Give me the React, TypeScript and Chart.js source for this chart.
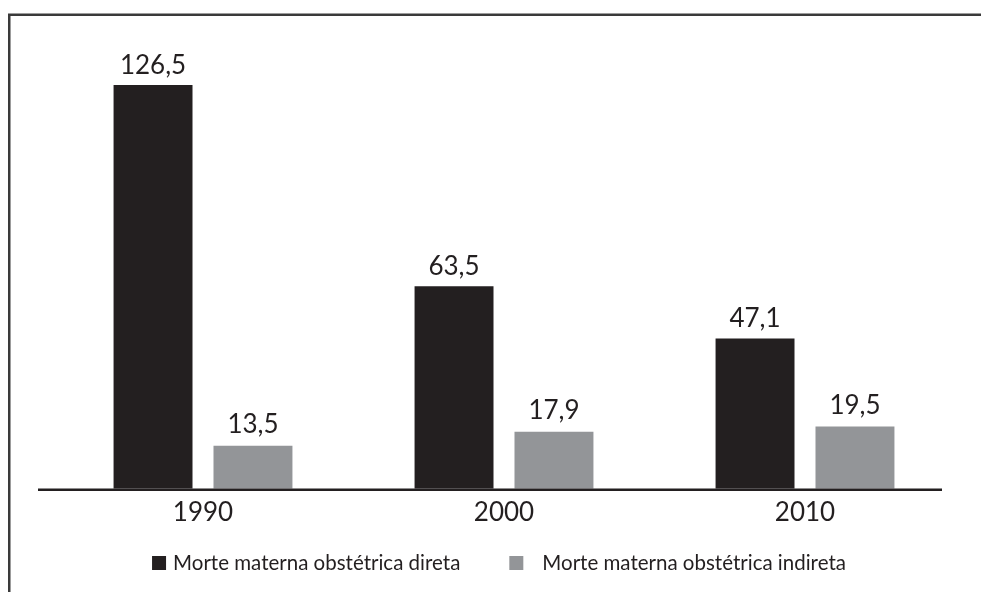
import React, { useEffect, useRef } from "react";
import { Chart, registerables } from "chart.js";

Chart.register(...registerables);

const categories = ["1990", "2000", "2010"];
const direta = [126.5, 63.5, 47.1];
const indireta = [13.5, 17.9, 19.5];
const seriesLabels = [
  "Morte materna obstétrica direta",
  "Morte materna obstétrica indireta",
];
const seriesColors = ["#231f20", "#939598"];
const yMax = 140;

const FONT = "Lato, 'DejaVu Sans', sans-serif";
const TEXT = "#231f20";

const framePlugin = {
  id: "frame",
  beforeDraw(chart: any) {
    const ctx = chart.ctx;
    ctx.save();
    ctx.strokeStyle = "#3a3a3a";
    ctx.lineWidth = 2.5;
    ctx.beginPath();
    ctx.moveTo(9.25, chart.height);
    ctx.lineTo(9.25, 14.75);
    ctx.lineTo(chart.width, 14.75);
    ctx.stroke();
    ctx.restore();
  },
};

const axisLinePlugin = {
  id: "axisLine",
  afterDatasetsDraw(chart: any) {
    const ctx = chart.ctx;
    const { left, right } = chart.chartArea;
    const y0 = chart.scales.y.getPixelForValue(0);
    ctx.save();
    ctx.strokeStyle = "#231f20";
    ctx.lineWidth = 2.5;
    ctx.beginPath();
    ctx.moveTo(left - 14.5, y0 + 1);
    ctx.lineTo(right - 13.5, y0 + 1);
    ctx.stroke();
    ctx.restore();
  },
};

const valueLabelPlugin = {
  id: "valueLabels",
  afterDatasetsDraw(chart: any) {
    const ctx = chart.ctx;
    ctx.save();
    ctx.font = `26px ${FONT}`;
    ctx.fillStyle = TEXT;
    ctx.textAlign = "center";
    ctx.textBaseline = "alphabetic";
    chart.data.datasets.forEach((ds: any, di: number) => {
      const meta = chart.getDatasetMeta(di);
      meta.data.forEach((bar: any, i: number) => {
        const v = ds.data[i] as number;
        const txt = v.toFixed(1).replace(".", ",");
        ctx.fillText(txt, bar.x, bar.y - (di === 0 ? 11 : 13));
      });
    });
    ctx.restore();
  },
};

const legendPlugin = {
  id: "customLegend",
  afterDraw(chart: any) {
    const ctx = chart.ctx;
    ctx.save();
    ctx.font = `20.5px ${FONT}`;
    ctx.textBaseline = "middle";
    ctx.textAlign = "left";
    const box = 14;
    const gaps = [7, 19];
    const itemGap = 49;
    const items = chart.data.datasets.map((ds: any, i: number) => ({
      label: ds.label,
      color: ds.backgroundColor,
      w: box + gaps[i] + ctx.measureText(ds.label).width,
    }));
    const total =
      items.reduce((s: number, it: any) => s + it.w, 0) + itemGap * (items.length - 1);
    const { left, right } = chart.chartArea;
    let x = (left + right) / 2 - 5 - total / 2;
    const cy = 563;
    items.forEach((it: any, i: number) => {
      ctx.fillStyle = it.color;
      ctx.fillRect(x, cy - box / 2, box, box);
      ctx.fillStyle = TEXT;
      ctx.fillText(it.label, x + box + gaps[i], cy);
      x += it.w + itemGap;
    });
    ctx.restore();
  },
};

export default function App() {
  const ref = useRef<HTMLCanvasElement | null>(null);
  useEffect(() => {
    if (!ref.current) return;
    const chart = new Chart(ref.current, {
      type: "bar",
      data: {
        labels: categories,
        datasets: [
          {
            label: seriesLabels[0],
            data: direta,
            backgroundColor: seriesColors[0],
            categoryPercentage: 0.664,
            barPercentage: 0.79,
          },
          {
            label: seriesLabels[1],
            data: indireta,
            backgroundColor: seriesColors[1],
            categoryPercentage: 0.664,
            barPercentage: 0.79,
          },
        ],
      },
      options: {
        responsive: false,
        animation: false,
        layout: { padding: { left: 52.5, right: 25.5, top: 42, bottom: 56 } },
        plugins: {
          legend: { display: false },
          tooltip: { enabled: false },
          title: { display: false },
        },
        scales: {
          x: {
            grid: { display: false, drawTicks: false },
            border: { display: false },
            ticks: { color: TEXT, font: { family: FONT, size: 26 }, padding: 8 },
          },
          y: { display: false, min: 0, max: yMax },
        },
      },
      plugins: [framePlugin, axisLinePlugin, valueLabelPlugin, legendPlugin],
    });
    return () => chart.destroy();
  }, []);
  return (
    <div style={{ position: "absolute", left: 0, top: 0, width: 981, height: 592, background: "#fff" }}>
      <canvas ref={ref} width={981} height={592} style={{ display: "block" }} />
    </div>
  );
}
